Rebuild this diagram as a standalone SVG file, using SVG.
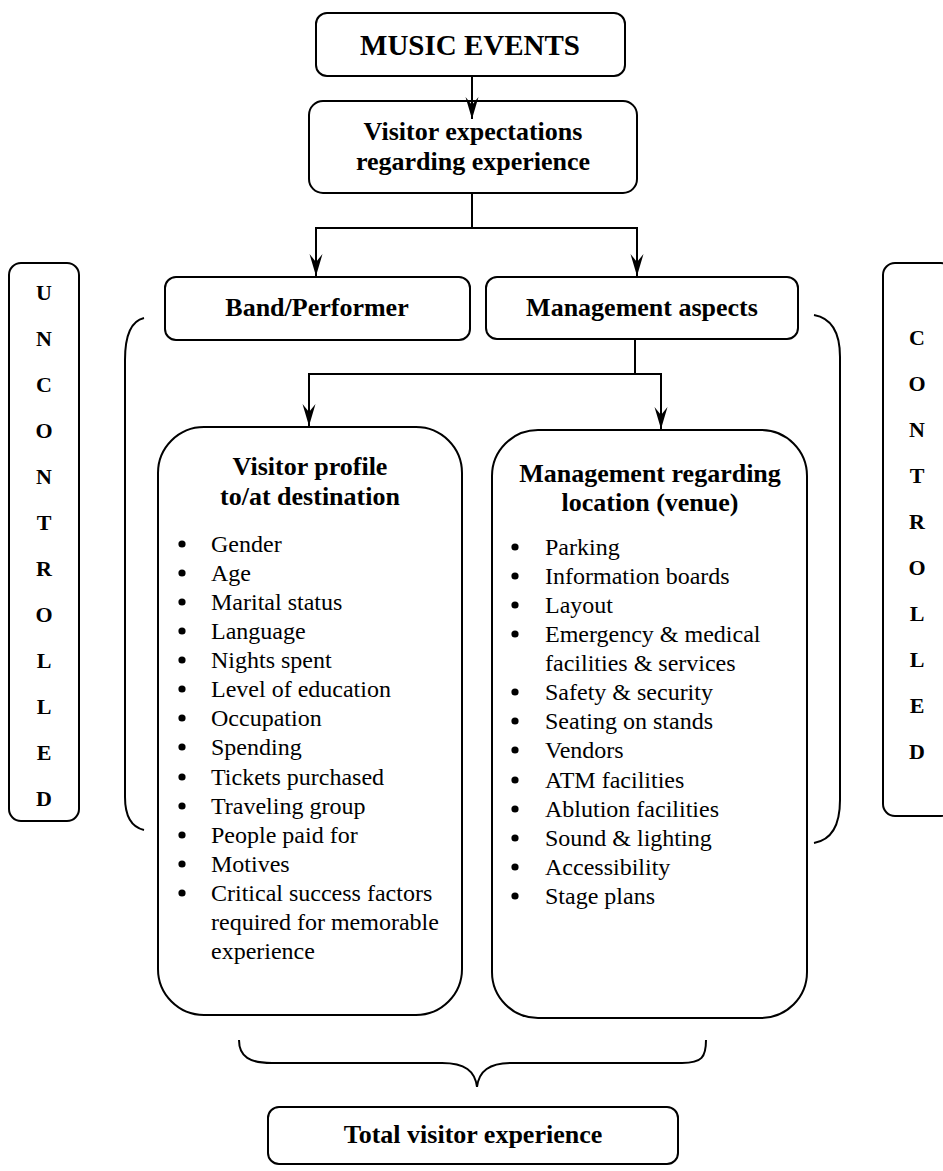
<svg xmlns="http://www.w3.org/2000/svg" width="943" height="1171" viewBox="0 0 943 1171">
<style>
.box{fill:#fff;stroke:#000;stroke-width:2}
.ln{fill:none;stroke:#000;stroke-width:2}
.h{font-family:"Liberation Serif","Times New Roman",serif;font-weight:bold;font-size:26px;text-anchor:middle;fill:#000}
.t{font-family:"Liberation Serif","Times New Roman",serif;font-size:24px;fill:#000}
.v{font-family:"Liberation Serif","Times New Roman",serif;font-weight:bold;font-size:22px;text-anchor:middle;fill:#000}
</style>
<defs>
<marker id="arr" viewBox="-23 -7 24 14" refX="0" refY="0" markerWidth="24" markerHeight="14" markerUnits="userSpaceOnUse" orient="auto">
<path d="M0,0 L-22,-6.5 L-14,0 L-22,6.5 Z" fill="#000"/>
</marker>
</defs>
<rect width="943" height="1171" fill="#fff"/>

<g id="connectors">
<path class="ln" d="M472,76 V119" marker-end="url(#arr)"/>
<path class="ln" d="M472,193 V228 H316 V276" marker-end="url(#arr)"/>
<path class="ln" d="M472,228 H637 V276" marker-end="url(#arr)"/>
<path class="ln" d="M635,339 V374 H309 V426" marker-end="url(#arr)"/>
<path class="ln" d="M635,374 H661 V429" marker-end="url(#arr)"/>
</g>

<g id="music-events">
<rect class="box" x="316" y="13" width="309" height="63" rx="11"/>
<text class="h" x="470" y="55" style="font-size:29px">MUSIC EVENTS</text>
</g>

<g id="visitor-expectations">
<rect class="box" x="309" y="101" width="328" height="92" rx="14" style="fill:none"/>
<text class="h" x="473" y="140">Visitor expectations</text>
<text class="h" x="473" y="170">regarding experience</text>
</g>

<g id="band-performer">
<rect class="box" x="165" y="277" width="305" height="63" rx="11"/>
<text class="h" x="317" y="316">Band/Performer</text>
</g>

<g id="management-aspects">
<rect class="box" x="486" y="277" width="312" height="62" rx="11"/>
<text class="h" x="642" y="316">Management aspects</text>
</g>

<g id="uncontrolled">
<rect class="box" x="9" y="263" width="70" height="558" rx="12"/>
<text class="v" x="44" y="300">U</text>
<text class="v" x="44" y="346">N</text>
<text class="v" x="44" y="392">C</text>
<text class="v" x="44" y="438">O</text>
<text class="v" x="44" y="484">N</text>
<text class="v" x="44" y="530">T</text>
<text class="v" x="44" y="576">R</text>
<text class="v" x="44" y="622">O</text>
<text class="v" x="44" y="668">L</text>
<text class="v" x="44" y="714">L</text>
<text class="v" x="44" y="760">E</text>
<text class="v" x="44" y="806">D</text>
</g>

<g id="controlled">
<rect class="box" x="883" y="263" width="70" height="553" rx="12"/>
<text class="v" x="917" y="345">C</text>
<text class="v" x="917" y="391">O</text>
<text class="v" x="917" y="437">N</text>
<text class="v" x="917" y="483">T</text>
<text class="v" x="917" y="529">R</text>
<text class="v" x="917" y="575">O</text>
<text class="v" x="917" y="621">L</text>
<text class="v" x="917" y="667">L</text>
<text class="v" x="917" y="713">E</text>
<text class="v" x="917" y="759">D</text>
</g>

<g id="brackets">
<path class="ln" d="M144,318 C131,321 125,334 125,360 L125,797 C125,816 131,827 144,830"/>
<path class="ln" d="M814,315 C831,318 840,331 840,357 L840,800 C840,826 831,840 814,843"/>
</g>

<g id="visitor-profile">
<rect class="box" x="158" y="427" width="304" height="588" rx="46"/>
<text class="h" x="310" y="475">Visitor profile</text>
<text class="h" x="310" y="505">to/at destination</text>
<g fill="#000">
<circle cx="182" cy="544" r="3.6"/><circle cx="182" cy="573" r="3.6"/><circle cx="182" cy="602" r="3.6"/>
<circle cx="182" cy="631" r="3.6"/><circle cx="182" cy="660" r="3.6"/><circle cx="182" cy="689" r="3.6"/>
<circle cx="182" cy="718" r="3.6"/><circle cx="182" cy="747" r="3.6"/><circle cx="182" cy="777" r="3.6"/>
<circle cx="182" cy="806" r="3.6"/><circle cx="182" cy="835" r="3.6"/><circle cx="182" cy="864" r="3.6"/>
<circle cx="182" cy="893" r="3.6"/>
</g>
<text class="t" x="211" y="552">Gender</text>
<text class="t" x="211" y="581">Age</text>
<text class="t" x="211" y="610">Marital status</text>
<text class="t" x="211" y="639">Language</text>
<text class="t" x="211" y="668">Nights spent</text>
<text class="t" x="211" y="697">Level of education</text>
<text class="t" x="211" y="726">Occupation</text>
<text class="t" x="211" y="755">Spending</text>
<text class="t" x="211" y="785">Tickets purchased</text>
<text class="t" x="211" y="814">Traveling group</text>
<text class="t" x="211" y="843">People paid for</text>
<text class="t" x="211" y="872">Motives</text>
<text class="t" x="211" y="901">Critical success factors</text>
<text class="t" x="211" y="930">required for memorable</text>
<text class="t" x="211" y="959">experience</text>
</g>

<g id="venue-management">
<rect class="box" x="492" y="430" width="315" height="588" rx="46"/>
<text class="h" x="650" y="482">Management regarding</text>
<text class="h" x="650" y="511">location (venue)</text>
<g fill="#000">
<circle cx="515" cy="547" r="3.6"/><circle cx="515" cy="576" r="3.6"/><circle cx="515" cy="605" r="3.6"/>
<circle cx="515" cy="634" r="3.6"/><circle cx="515" cy="692" r="3.6"/>
<circle cx="515" cy="721" r="3.6"/><circle cx="515" cy="750" r="3.6"/><circle cx="515" cy="780" r="3.6"/>
<circle cx="515" cy="809" r="3.6"/><circle cx="515" cy="838" r="3.6"/><circle cx="515" cy="867" r="3.6"/>
<circle cx="515" cy="896" r="3.6"/>
</g>
<text class="t" x="545" y="555">Parking</text>
<text class="t" x="545" y="584">Information boards</text>
<text class="t" x="545" y="613">Layout</text>
<text class="t" x="545" y="642">Emergency &amp; medical</text>
<text class="t" x="545" y="671">facilities &amp; services</text>
<text class="t" x="545" y="700">Safety &amp; security</text>
<text class="t" x="545" y="729">Seating on stands</text>
<text class="t" x="545" y="758">Vendors</text>
<text class="t" x="545" y="788">ATM facilities</text>
<text class="t" x="545" y="817">Ablution facilities</text>
<text class="t" x="545" y="846">Sound &amp; lighting</text>
<text class="t" x="545" y="875">Accessibility</text>
<text class="t" x="545" y="904">Stage plans</text>
</g>

<g id="brace">
<path class="ln" d="M239,1040 C239,1057 250,1063 272,1063 L442,1063 C465,1063 475,1071 477,1087 C479,1071 489,1063 512,1063 L682,1063 C702,1063 706,1057 706,1040"/>
</g>

<g id="total-experience">
<rect class="box" x="268" y="1107" width="410" height="57" rx="11"/>
<text class="h" x="473" y="1143">Total visitor experience</text>
</g>
</svg>
